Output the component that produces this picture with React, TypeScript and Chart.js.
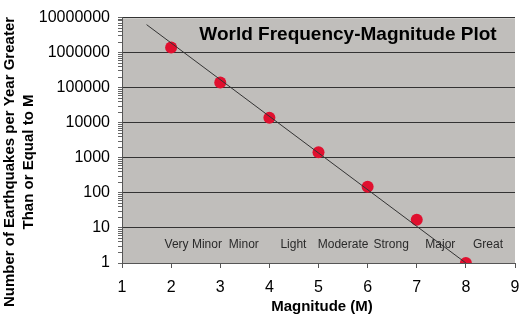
import React, { useEffect, useRef } from "react";
import { Chart, registerables } from "chart.js";

Chart.register(...registerables);

const magnitudes = [2, 3, 4, 5, 6, 7, 8];
const quakesPerYear = [1400000, 140000, 14000, 1450, 150, 17, 1];
const trendM = [1.5, 8];
const trendN = [6300000, 1];
const classNames = ["Very Minor", "Minor", "Light", "Moderate", "Strong", "Major", "Great"];
const classCenters = [2.45, 3.48, 4.49, 5.5, 6.48, 7.48, 8.45];
const classLabelLevel = 3.4;
const yTickValues = [1, 10, 100, 1000, 10000, 100000, 1000000, 10000000];
const chartTitle = "World Frequency-Magnitude Plot";
const yTitleLines = ["Number of Earthquakes per Year Greater", "Than or Equal to M"];
const xTitle = "Magnitude (M)";

const FONT = "'Liberation Sans', Arial, sans-serif";

const isPow10 = (v: number) => {
  const l = Math.log10(v);
  return Math.abs(l - Math.round(l)) < 1e-9;
};

const decorPlugin = {
  id: "decor",
  beforeDraw(chart: any) {
    const { ctx, chartArea } = chart;
    ctx.save();
    ctx.fillStyle = "#ffffff";
    ctx.fillRect(0, 0, chart.width, chart.height);
    ctx.fillStyle = "#c0bebb";
    ctx.fillRect(chartArea.left, chartArea.top, chartArea.right - chartArea.left, chartArea.bottom - chartArea.top);
    ctx.strokeStyle = "#d8d8d8";
    ctx.lineWidth = 1;
    ctx.beginPath();
    ctx.moveTo(chartArea.left, chartArea.top + 0.5);
    ctx.lineTo(chartArea.right, chartArea.top + 0.5);
    ctx.stroke();
    ctx.restore();
  },
  beforeDatasetsDraw(chart: any) {
    const { ctx, scales } = chart;
    const xs = scales.x;
    const ys = scales.y;
    ctx.save();
    ctx.fillStyle = "#2a2a2a";
    ctx.font = `12px ${FONT}`;
    ctx.textAlign = "center";
    ctx.textBaseline = "middle";
    classNames.forEach((name, i) => {
      ctx.fillText(name, xs.getPixelForValue(classCenters[i]), ys.getPixelForValue(classLabelLevel));
    });
    ctx.fillStyle = "#000";
    ctx.font = `bold 19px ${FONT}`;
    ctx.fillText(chartTitle, 348, 35);
    // axis titles
    ctx.font = `bold 15px ${FONT}`;
    ctx.fillText(xTitle, 322, 307);
    ctx.translate(0, 162);
    ctx.rotate(-Math.PI / 2);
    ctx.fillText(yTitleLines[0], 0, 10);
    ctx.fillText(yTitleLines[1], 0, 29);
    ctx.restore();
  },
};

export default function App() {
  const ref = useRef<HTMLCanvasElement>(null);
  useEffect(() => {
    if (!ref.current) return;
    const chart = new Chart(ref.current, {
      type: "scatter",
      data: {
        datasets: [
          {
            label: "trend",
            data: trendM.map((m, i) => ({ x: m, y: trendN[i] })),
            showLine: true,
            borderColor: "#333333",
            borderWidth: 1,
            pointRadius: 0,
          },
          {
            label: "quakes",
            data: magnitudes.map((m, i) => ({ x: m, y: quakesPerYear[i] })),
            pointRadius: 6,
            pointHoverRadius: 6,
            backgroundColor: "#e0102f",
            borderColor: "#e0102f",
            borderWidth: 0,
          },
        ],
      },
      options: {
        animation: false,
        responsive: false,
        devicePixelRatio: 1,
        layout: { padding: { top: 15, right: 0, left: 0, bottom: 0 } },
        plugins: { legend: { display: false }, tooltip: { enabled: false }, title: { display: false } },
        scales: {
          x: {
            type: "linear",
            min: 1,
            max: 9,
            ticks: { stepSize: 1, color: "#000", font: { family: FONT, size: 16 }, padding: 10 },
            grid: { drawOnChartArea: false, tickLength: 5, tickColor: "#555" },
            border: { color: "#555", width: 1 },
            afterFit: (s: any) => { s.height = 62; s.paddingRight = 10; },
          },
          y: {
            type: "logarithmic",
            min: 1,
            max: 10000000,
            afterBuildTicks: (s: any) => {
              const t: any[] = [];
              for (let d = 0; d < yTickValues.length; d++) {
                const base = yTickValues[d];
                t.push({ value: base });
                if (d < yTickValues.length - 1) for (let k = 2; k <= 9; k++) t.push({ value: base * k });
              }
              s.ticks = t;
            },
            ticks: {
              autoSkip: false,
              color: "#000",
              font: { family: FONT, size: 16 },
              padding: 8,
              callback: (v: any) => (isPow10(Number(v)) ? String(Number(v)) : ""),
            },
            grid: {
              color: (c: any) => (c.tick && isPow10(c.tick.value) && c.tick.value > 1 ? "#333333" : "rgba(0,0,0,0)"),
              tickColor: "#666",
              tickLength: 4,
            },
            border: { color: "#555", width: 1 },
            afterFit: (s: any) => { s.width = 122; },
          },
        },
      },
      plugins: [decorPlugin],
    });
    return () => chart.destroy();
  }, []);
  return (
    <div style={{ position: "fixed", left: 0, top: 0, width: 525, height: 325 }}>
      <canvas ref={ref} width={525} height={325} />
    </div>
  );
}
